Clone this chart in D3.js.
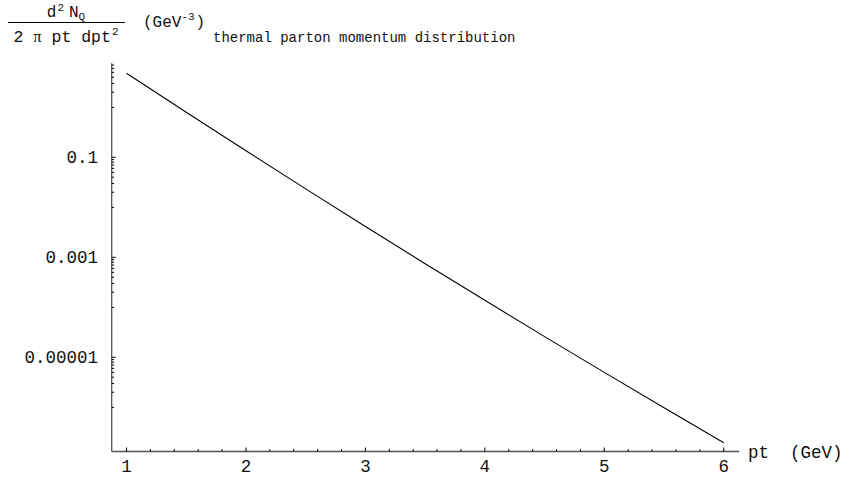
<!DOCTYPE html>
<html>
<head>
<meta charset="utf-8">
<script src="https://cdn.jsdelivr.net/npm/d3@7"></script>
<style>
  html, body { margin: 0; padding: 0; background: #fff; }
  svg { display: block; }
  text { font-family: "Liberation Mono", "Courier New", monospace; fill: #111; }
</style>
</head>
<body>
<svg id="chart" width="850" height="477"></svg>
<script>
// Thermal parton spectrum d^2N/(2 pi pt dpt^2) vs pt
const ptValues   = [1, 1.5, 2, 2.5, 3, 3.5, 4, 4.5, 5, 5.5, 6];
const yieldValues = [4.79, 0.796, 0.135, 0.0234, 0.00414, 7.46e-4, 1.38e-4, 2.59e-5, 4.99e-6, 9.77e-7, 1.96e-7];

const xTicks = [1, 2, 3, 4, 5, 6];
const yMajorTicks = [10, 0.1, 0.001, 0.00001, 0.0000001];
const yTickLabels = ["10", "0.1", "0.001", "0.00001", "1e-7"];

// axis extents (data units)
const xAxisMin = 0.876, xAxisMax = 6.13;
const yAxisMin = 1.306e-7, yAxisMax = 7.6;

const svg = d3.select("#chart");

const x = d3.scaleLinear().domain([xAxisMin, xAxisMax]).range([111.7, 739.3]);
const y = d3.scaleLog().domain([1e-7, 10]).range([457.3, 57.3]);

const axisColor = "#555";

// ---- x axis ----
svg.append("line")
  .attr("x1", x(xAxisMin)).attr("x2", x(xAxisMax))
  .attr("y1", y(yAxisMin)).attr("y2", y(yAxisMin))
  .attr("stroke", axisColor).attr("stroke-width", 1.3);

const xMinor = d3.range(0, 26).map(i => 1 + i * 0.2).filter(v => v <= xAxisMax);
svg.append("g").selectAll("line").data(xMinor).join("line")
  .attr("x1", d => x(d)).attr("x2", d => x(d))
  .attr("y1", y(yAxisMin))
  .attr("y2", d => y(yAxisMin) - (xTicks.some(t => Math.abs(t - d) < 1e-6) ? 4 : 2.4))
  .attr("stroke", "#000").attr("stroke-width", 1);

svg.append("g").selectAll("text").data(xTicks).join("text")
  .attr("x", d => x(d)).attr("y", 472)
  .attr("text-anchor", "middle")
  .attr("font-size", 17.5)
  .text(d => d);

svg.append("text")
  .attr("x", 748).attr("y", 458)
  .attr("font-size", 17.5)
  .attr("xml:space", "preserve")
  .text("pt  (GeV)");

// ---- y axis ----
svg.append("line")
  .attr("x1", x(xAxisMin)).attr("x2", x(xAxisMin))
  .attr("y1", y(yAxisMin)).attr("y2", y(yAxisMax))
  .attr("stroke", axisColor).attr("stroke-width", 1.3);

// minor ticks sit in the decade just below each labelled major
const yMinor = [];
yMajorTicks.forEach(m => {
  for (let k = 1; k <= 9; k++) yMinor.push(k * m / 10);
});
const inAxis = v => v >= yAxisMin * 0.98 && v <= yAxisMax * 1.05;

svg.append("g").selectAll("line").data(yMinor.filter(inAxis)).join("line")
  .attr("x1", x(xAxisMin)).attr("x2", x(xAxisMin) + 2.4)
  .attr("y1", d => y(d)).attr("y2", d => y(d))
  .attr("stroke", "#000").attr("stroke-width", 1);

const yMajorShown = yMajorTicks.map((v, i) => ({ v, label: yTickLabels[i] })).filter(d => inAxis(d.v));
svg.append("g").selectAll("line").data(yMajorShown).join("line")
  .attr("x1", x(xAxisMin)).attr("x2", x(xAxisMin) + 4)
  .attr("y1", d => y(d.v)).attr("y2", d => y(d.v))
  .attr("stroke", "#000").attr("stroke-width", 1);

svg.append("g").selectAll("text").data(yMajorShown).join("text")
  .attr("x", 98).attr("y", d => y(d.v) + 6)
  .attr("text-anchor", "end")
  .attr("font-size", 17.5)
  .text(d => d.label);

// ---- curve ----
const line = d3.line()
  .x((d, i) => x(ptValues[i]))
  .y(d => y(d))
  .curve(d3.curveMonotoneX);

svg.append("path")
  .datum(yieldValues)
  .attr("d", line)
  .attr("fill", "none")
  .attr("stroke", "#000")
  .attr("stroke-width", 1.1);

// ---- y label (fraction) ----
const num = svg.append("text").attr("x", 66).attr("y", 17).attr("text-anchor", "middle").attr("font-size", 16);
num.append("tspan").text("d");
num.append("tspan").attr("font-size", 11).attr("dy", -6).attr("dx", 1).text("2");
num.append("tspan").attr("dy", 6).attr("dx", 5).text("N");
num.append("tspan").attr("font-size", 11).attr("dy", 3).text("Q");

svg.append("line")
  .attr("x1", 8).attr("x2", 125).attr("y1", 22.5).attr("y2", 22.5)
  .attr("stroke", "#000").attr("stroke-width", 1);

const den = svg.append("text").attr("x", 66).attr("y", 42).attr("text-anchor", "middle").attr("font-size", 16.5);
den.append("tspan").text("2 ");
den.append("tspan").attr("font-family", "Liberation Serif, serif").text("π");
den.append("tspan").text(" pt dpt");
den.append("tspan").attr("font-size", 11).attr("dy", -7).attr("dx", 1).text("2");

const unit = svg.append("text").attr("x", 143).attr("y", 27).attr("font-size", 16);
unit.append("tspan").text("(GeV");
unit.append("tspan").attr("font-size", 11).attr("dy", -7).text("-3");
unit.append("tspan").attr("dy", 7).attr("dx", 1).text(")");

// ---- title ----
svg.append("text")
  .attr("x", 213).attr("y", 42)
  .attr("font-size", 14)
  .text("thermal parton momentum distribution");
</script>
</body>
</html>
